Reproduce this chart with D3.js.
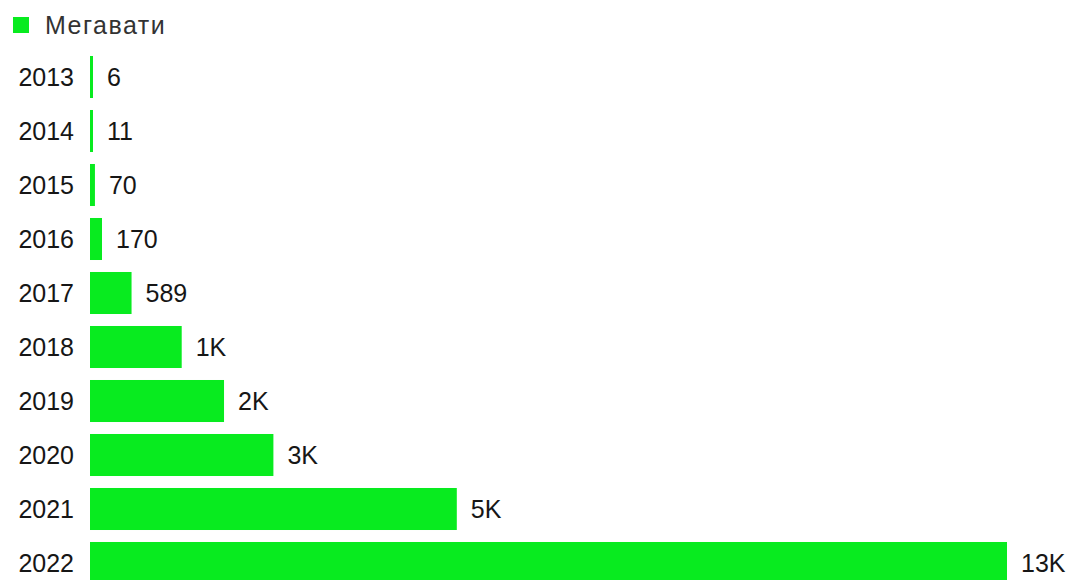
<!DOCTYPE html>
<html>
<head>
<meta charset="utf-8">
<script src="https://cdn.jsdelivr.net/npm/d3@7"></script>
<style>
  body { margin: 0; background: #fff; }
  text { font-family: "Liberation Sans", Arial, sans-serif; fill: #161616; }
</style>
</head>
<body>
<svg id="chart" width="1069" height="580"></svg>
<script>
// data
var years  = ["2013", "2014", "2015", "2016", "2017", "2018", "2019", "2020", "2021", "2022"];
var values = [6, 11, 70, 170, 589, 1300, 1900, 2600, 5200, 13000];
var seriesName = "Мегавати";

var barColor = "#08eb1f";

var svg = d3.select("#chart");

var margin = {left: 90, top: 50};

var x = d3.scaleLinear().domain([0, 13000]).range([margin.left, 1007]);
var y = d3.scaleBand().domain(years)
            .range([margin.top, margin.top + 540])
            .paddingInner(0.222)
            .paddingOuter(0.111);

function fmt(v){
    if( v >= 1000 ) return Math.round(v / 1000) + "K";
    return String(v);
}

var rows = years.map(function(yr, i){ return {year: yr, value: values[i]}; });

// legend
svg.append("rect")
    .attr("x", 13).attr("y", 17)
    .attr("width", 16).attr("height", 16)
    .attr("fill", barColor);
svg.append("text")
    .attr("x", 45).attr("y", 25)
    .attr("dy", "0.35em")
    .style("font-size", "25px")
    .style("letter-spacing", "1.5px")
    .style("fill", "#333")
    .text(seriesName);

// bars
svg.selectAll("rect.bar")
    .data(rows)
    .enter().append("rect")
        .attr("class", "bar")
        .attr("x", x(0))
        .attr("y", function(d){ return y(d.year); })
        .attr("width", function(d){ return Math.max(3, x(d.value) - x(0)); })
        .attr("height", y.bandwidth())
        .attr("fill", barColor);

// year labels
svg.selectAll("text.year")
    .data(rows)
    .enter().append("text")
        .attr("class", "year")
        .attr("x", 74)
        .attr("y", function(d){ return y(d.year) + y.bandwidth() / 2; })
        .attr("dy", "0.35em")
        .attr("text-anchor", "end")
        .style("font-size", "25px")
        .text(function(d){ return d.year; });

// value labels
svg.selectAll("text.val")
    .data(rows)
    .enter().append("text")
        .attr("class", "val")
        .attr("x", function(d){ return x(0) + Math.max(3, x(d.value) - x(0)) + 14; })
        .attr("y", function(d){ return y(d.year) + y.bandwidth() / 2; })
        .attr("dy", "0.35em")
        .style("font-size", "25px")
        .text(function(d){ return fmt(d.value); });
</script>
</body>
</html>
